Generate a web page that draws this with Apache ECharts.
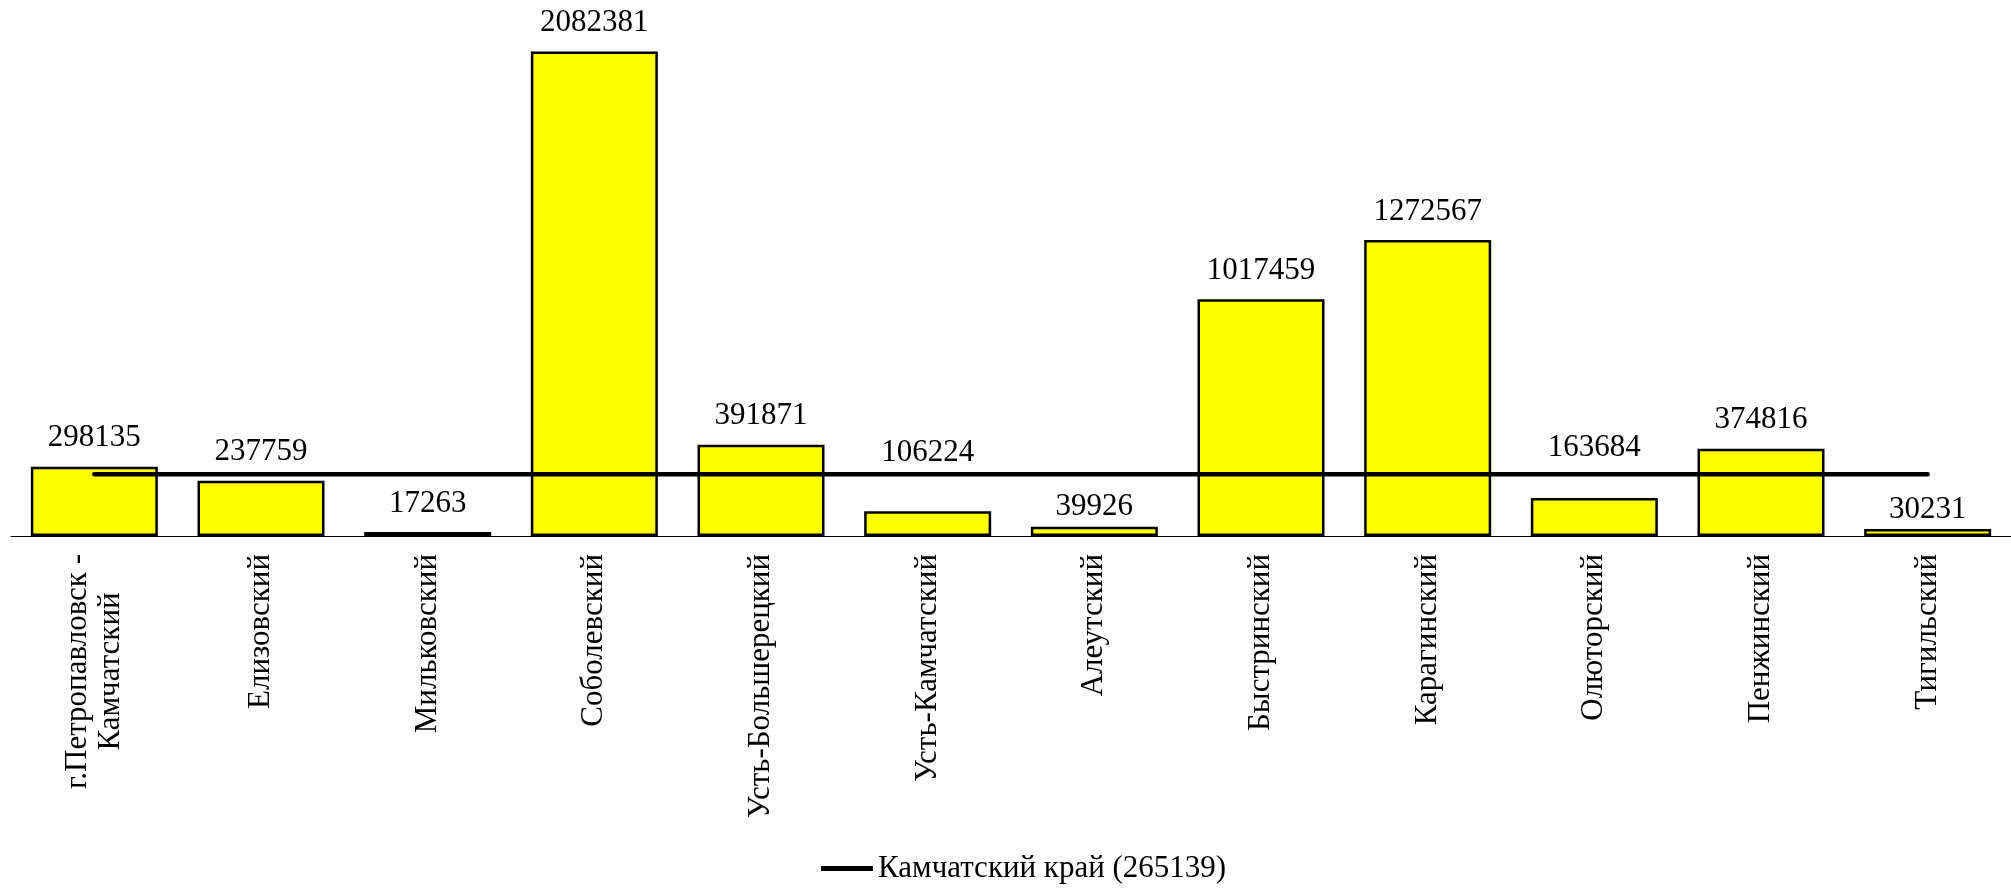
<!DOCTYPE html>
<html>
<head>
<meta charset="utf-8">
<script src="https://cdn.jsdelivr.net/npm/echarts@6/dist/echarts.min.js"></script>
<style>
html,body{margin:0;padding:0;background:#fff;}
#chart{width:2011px;height:888px;}
</style>
</head>
<body>
<div id="chart"></div>
<script>
// ---- data ----
var categories = [
  'г.Петропавловск -\nКамчатский', 'Елизовский', 'Мильковский', 'Соболевский',
  'Усть-Большерецкий', 'Усть-Камчатский', 'Алеутский', 'Быстринский',
  'Карагинский', 'Олюторский', 'Пенжинский', 'Тигильский'
];
var districtValues = [298135, 237759, 17263, 2082381, 391871, 106224, 39926, 1017459, 1272567, 163684, 374816, 30231];
var regionName = 'Камчатский край (265139)';
var regionValues = [265139, 265139, 265139, 265139, 265139, 265139, 265139, 265139, 265139, 265139, 265139, 265139];

// label placement tweaks (pixels lifted, as in the source figure)
var labelLift = [0, 0, 0, 0, 0, 30, -9, 0, 0, 22, 0, -9];

var FONT = '"Liberation Serif", "Times New Roman", serif';

var barData = districtValues.map(function (v, i) {
  return { value: v, label: { offset: [0, -labelLift[i]] } };
});

var chart = echarts.init(document.getElementById('chart'));
chart.setOption({
  animation: false,
  backgroundColor: '#fff',
  grid: { left: 11, top: 1, width: 2005, bottom: 352 },
  legend: {
    data: [regionName],
    left: 821,
    top: 853,
    padding: 0,
    icon: 'rect',
    itemWidth: 52,
    itemHeight: 5,
    itemGap: 10,
    textStyle: { fontFamily: FONT, fontSize: 31, color: '#000' }
  },
  xAxis: {
    type: 'category',
    data: categories,
    axisTick: { show: false },
    axisLine: { lineStyle: { color: '#000', width: 1.2 } },
    axisLabel: {
      rotate: 90,
      margin: 18,
      interval: 0,
      fontFamily: FONT,
      fontSize: 31,
      color: '#000',
      formatter: function (v) {
        return v.split('\n').map(function (s) { return '{c|' + s + '}'; }).join('\n');
      },
      rich: {
        c: { fontFamily: FONT, fontSize: 31, color: '#000', align: 'center', lineHeight: 33 }
      }
    }
  },
  yAxis: {
    type: 'value',
    min: 0,
    max: 2300000,
    show: false,
    splitLine: { show: false }
  },
  series: [
    {
      type: 'bar',
      name: 'Районы',
      data: barData,
      barWidth: 127,
      itemStyle: { color: '#FFFF00', borderColor: '#000', borderWidth: 2.5 },
      label: {
        show: true,
        position: 'top',
        distance: 13,
        fontFamily: FONT,
        fontSize: 31,
        color: '#000'
      },
      z: 2
    },
    {
      type: 'line',
      name: regionName,
      data: regionValues,
      symbol: 'none',
      lineStyle: { color: '#000', width: 4.5, cap: 'round' },
      itemStyle: { color: '#000' },
      z: 3
    }
  ]
});
</script>
</body>
</html>
